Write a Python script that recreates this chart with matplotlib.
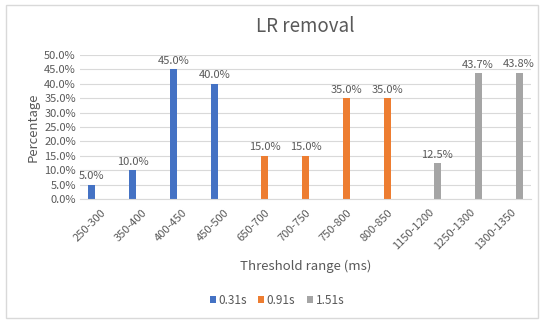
import numpy as np
import matplotlib
matplotlib.use("Agg")
import matplotlib.pyplot as plt
from matplotlib.patches import Rectangle

plt.rcParams['font.family'] = ['Noto Sans CJK SC', 'DejaVu Sans']

# data
categories = ['250-300', '350-400', '400-450', '450-500', '650-700', '700-750',
              '750-800', '800-850', '1150-1200', '1250-1300', '1300-1350']
s031 = [0.05, 0.10, 0.45, 0.40, 0, 0, 0, 0, 0, 0, 0]
s091 = [0, 0, 0, 0, 0.15, 0.15, 0.35, 0.35, 0, 0, 0]
s151 = [0, 0, 0, 0, 0, 0, 0, 0, 0.125, 0.437, 0.438]
series_names = ['0.31s', '0.91s', '1.51s']
colors = ['#4472C4', '#ED7D31', '#A5A5A5']
text_color = '#595959'

fig = plt.figure(figsize=(5.5, 3.23), dpi=100)
fig.patches.append(Rectangle((6 / 550, 1 - 318 / 323), 532 / 550, 313 / 323,
                             transform=fig.transFigure, fill=False,
                             edgecolor='#d9d9d9', linewidth=1))

ax = fig.add_axes([80 / 550, 1 - 199 / 323, 451 / 550, 144 / 323])
x = np.arange(len(categories))
width = 0.17
offsets = [-0.21, 0, 0.21]

for vals, off, name, col in zip([s031, s091, s151], offsets, series_names, colors):
    bars = ax.bar(x + off, vals, width, color=col, label=name)
    for b, v in zip(bars, vals):
        if v > 0:
            ax.text(b.get_x() + b.get_width() / 2, v + 0.012, f'{v * 100:.1f}%',
                    ha='center', va='bottom', fontsize=8, color=text_color)

ax.set_xlim(-0.5, len(categories) - 0.5)
ax.set_ylim(0, 0.5)
ax.set_yticks(np.arange(0, 0.501, 0.05))
ax.set_yticklabels([f'{t * 100:.1f}%' for t in np.arange(0, 0.501, 0.05)])
ax.set_xticks(x)
ax.set_xticklabels(categories, rotation=45, ha='right', rotation_mode='anchor')
ax.tick_params(axis='both', length=0, labelsize=8, colors=text_color)
ax.tick_params(axis='x', pad=6)
ax.tick_params(axis='y', pad=3)
ax.grid(axis='y', color='#d9d9d9', linewidth=0.8)
ax.set_axisbelow(True)
for side in ['top', 'right', 'left']:
    ax.spines[side].set_visible(False)
ax.spines['bottom'].set_color('#d9d9d9')

ax.set_ylabel('Percentage', fontsize=9.5, color=text_color, labelpad=3)
fig.text(0.5 * (80 + 531) / 550, 1 - 266 / 323, 'Threshold range (ms)',
         ha='center', va='center', fontsize=9.5, color=text_color)
fig.text(0.5 * (80 + 531) / 550, 1 - 27 / 323, 'LR removal',
         ha='center', va='center', fontsize=13.5, color=text_color)

fig.legend(loc='center', bbox_to_anchor=(277 / 550, 1 - 300 / 323), ncol=3,
           frameon=False, fontsize=8.5, handlelength=0.5, handleheight=0.5,
           handletextpad=0.2, columnspacing=1.0, labelcolor=text_color)

fig.savefig('out.png', dpi=100)
